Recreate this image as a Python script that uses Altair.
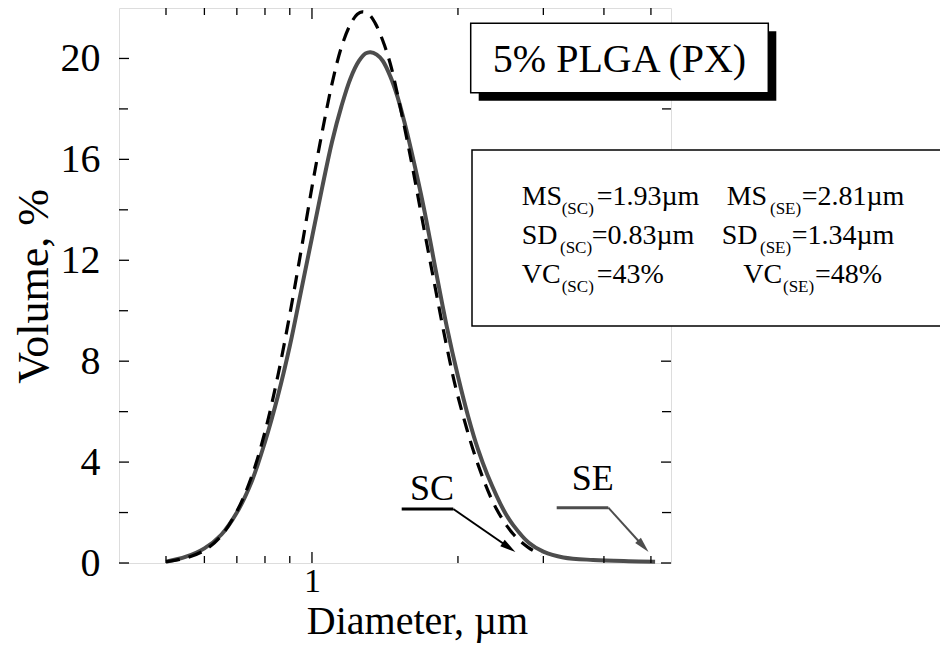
import altair as alt
import pandas as pd

# ---- data ----
se_d = [0.50, 0.55, 0.60, 0.65, 0.70, 0.75, 0.80, 0.85, 0.90, 0.95, 1.00, 1.05, 1.10, 1.15, 1.20,
        1.25, 1.29, 1.32, 1.36, 1.40, 1.45, 1.50, 1.55, 1.60, 1.70, 1.80, 1.90, 2.00, 2.10, 2.20, 2.30,
        2.50, 2.60, 2.80, 3.00, 3.30, 3.80, 4.50, 5.10]
se_v = [0.05, 0.25, 0.58, 1.12, 2.0, 3.2, 4.8, 6.6, 8.6, 10.8, 12.9, 14.9, 16.7, 18.1, 19.2,
        19.9, 20.2, 20.25, 20.15, 19.9, 19.3, 18.5, 17.5, 16.4, 14.1, 11.6, 9.3, 7.4, 5.8, 4.5, 3.5,
        2.0, 1.5, 0.8, 0.45, 0.22, 0.12, 0.07, 0.05]

sc_d = [0.50, 0.55, 0.60, 0.65, 0.70, 0.75, 0.80, 0.85, 0.90, 0.95, 1.00, 1.05, 1.10, 1.15, 1.20,
        1.24, 1.27, 1.31, 1.35, 1.40, 1.45, 1.50, 1.60, 1.70, 1.80, 1.90, 2.00, 2.20, 2.40, 2.60, 2.80, 2.97]
sc_v = [0.05, 0.2, 0.5, 1.08, 2.05, 3.4, 5.2, 7.4, 9.85, 12.4, 14.9, 17.1, 19.0, 20.45, 21.35,
        21.75, 21.85, 21.75, 21.4, 20.7, 19.8, 18.6, 16.0, 13.3, 10.8, 8.5, 6.6, 3.9, 2.15, 1.15, 0.6, 0.33]

x_major = [1]
x_minor = [0.5, 0.6, 0.7, 0.8, 0.9, 2, 3, 4, 5]
y_major = [0, 4, 8, 12, 16, 20]
y_minor = [2, 6, 10, 14, 18]

title_text = "5% PLGA (PX)"
stats_rows = [
    [("MS", "(SC)", "=1.93µm"), ("MS", "(SE)", "=2.81µm")],
    [("SD", "(SC)", "=0.83µm"), ("SD", "(SE)", "=1.34µm")],
    [("VC", "(SC)", "=43%"), ("VC", "(SE)", "=48%")],
]

FONT = "Liberation Serif"
W, H = 552, 555
GRAY = "#4d4d4d"
OY = 2  # vertical offset of annotations (pixels)

df = pd.concat([
    pd.DataFrame({"d": se_d, "v": se_v, "s": "SE"}),
    pd.DataFrame({"d": sc_d, "v": sc_v, "s": "SC"}),
])

xs = alt.Scale(type="log", domain=[0.4, 5.5], nice=False)
ys = alt.Scale(domain=[0, 22], nice=False)
xa = alt.Axis(values=x_major, ticks=False, domain=False, grid=False, format="~g",
              labelFont=FONT, labelFontSize=34, labelPadding=1, labelColor="black",
              title="Diameter, µm", titleFont=FONT, titleFontSize=40, titleFontWeight="normal",
              titleColor="black", titleX=298, titleY=70, titleBaseline="alphabetic")
ya = alt.Axis(values=y_major, ticks=False, domain=False, grid=False,
              labelFont=FONT, labelFontSize=40, labelPadding=19, labelColor="black",
              title="Volume, %", titleFont=FONT, titleFontSize=44, titleFontWeight="normal",
              titleColor="black", titleX=-72, titleY=278, titleBaseline="alphabetic")


def X():
    return alt.X("d:Q", scale=xs, axis=xa)


def Y():
    return alt.Y("v:Q", scale=ys, axis=ya)


one = pd.DataFrame({"a": [0]})

se_line = alt.Chart(df[df.s == "SE"]).mark_line(
    color=GRAY, strokeWidth=4, interpolate="catmull-rom").encode(x=X(), y=Y())
sc_line = alt.Chart(df[df.s == "SC"]).mark_line(
    color="black", strokeWidth=3.2, strokeDash=[14, 9], interpolate="catmull-rom").encode(x=X(), y=Y())

layers = [se_line, sc_line]

# ticks on all four sides, inside
for vals, ln in ((x_major, 11), (x_minor, 7)):
    d = pd.DataFrame({"d": vals})
    layers.append(alt.Chart(d).mark_rule(color="black", strokeWidth=1.3).encode(
        x=X(), y=alt.value(H), y2=alt.value(H - ln)))
    layers.append(alt.Chart(d).mark_rule(color="black", strokeWidth=1.3).encode(
        x=X(), y=alt.value(0), y2=alt.value(ln)))
for vals, ln in ((y_major, 10), (y_minor, 9)):
    d = pd.DataFrame({"v": vals})
    layers.append(alt.Chart(d).mark_rule(color="black", strokeWidth=1.3).encode(
        y=Y(), x=alt.value(0), x2=alt.value(ln)))
    layers.append(alt.Chart(d).mark_rule(color="black", strokeWidth=1.3).encode(
        y=Y(), x=alt.value(W), x2=alt.value(W - ln)))


def rect(x, y, x2, y2, fill, stroke=None, sw=0):
    kw = dict(fill=fill)
    if stroke:
        kw.update(stroke=stroke, strokeWidth=sw)
    return alt.Chart(one).mark_rect(**kw).encode(
        x=alt.value(x), y=alt.value(y + OY), x2=alt.value(x2), y2=alt.value(y2 + OY))


def txt(s, x, y, size, color="black", align="left"):
    return alt.Chart(one).mark_text(text=s, font=FONT, fontSize=size, color=color,
                                    align=align, baseline="alphabetic").encode(
        x=alt.value(x), y=alt.value(y + OY))


def seg(x, y, x2, y2, color, sw):
    return alt.Chart(one).mark_rule(color=color, strokeWidth=sw).encode(
        x=alt.value(x), y=alt.value(y + OY), x2=alt.value(x2), y2=alt.value(y2 + OY))


def head(x, y, ang, color):
    return alt.Chart(one).mark_point(shape="M0,-1L0.42,0.7L-0.42,0.7Z", size=340, filled=True,
                                     opacity=1, color=color, angle=ang).encode(
        x=alt.value(x), y=alt.value(y + OY))


# title box with shadow
layers.append(rect(359.7, 21.3, 657.3, 90.7, "black"))
layers.append(rect(351.7, 13.3, 649.3, 82.7, "white", "black", 1.5))
layers.append(txt(title_text, 500.5, 62, 40, align="center"))

# statistics box
layers.append(rect(353, 140, 840, 316, "white", "black", 1.5))
row_y = [195, 234, 273]
col_x = [
    [(402.7, 442.7, 477.7), (607.7, 651, 682.7)],
    [(402.7, 441, 472.7), (602.7, 641, 672.7)],
    [(402.7, 442.7, 477.7), (624.3, 664, 696)],
]
for r, row in enumerate(stats_rows):
    for c, (a, sub, b) in enumerate(row):
        xa_, xs_, xb_ = col_x[r][c]
        layers.append(txt(a, xa_, row_y[r], 28))
        layers.append(txt(sub, xs_, row_y[r] + 9, 17))
        layers.append(txt(b, xb_, row_y[r], 28))

# SC / SE pointers
layers.append(txt("SC", 291, 490, 36))
layers.append(seg(282.7, 499, 334.3, 499, "black", 3))
layers.append(seg(334.3, 499, 390, 537.5, "black", 2))
layers.append(head(388.8, 536.7, 124.7, "black"))

layers.append(txt("SE", 452.7, 480, 36, color="black"))
layers.append(seg(437.7, 497.7, 489.3, 497.7, GRAY, 3))
layers.append(seg(489.3, 497.7, 524.5, 536.5, GRAY, 2))
layers.append(head(523.4, 535.2, 137.7, GRAY))

chart = alt.layer(*layers).properties(
    width=W, height=H,
    autosize=alt.AutoSizeParams(type="none"),
    padding={"left": 111, "top": 0, "right": 269, "bottom": 80},
).configure_view(stroke="black", strokeWidth=1.5).configure(background="white")

chart.save("out.html", embed_options={"renderer": "svg", "actions": False})
